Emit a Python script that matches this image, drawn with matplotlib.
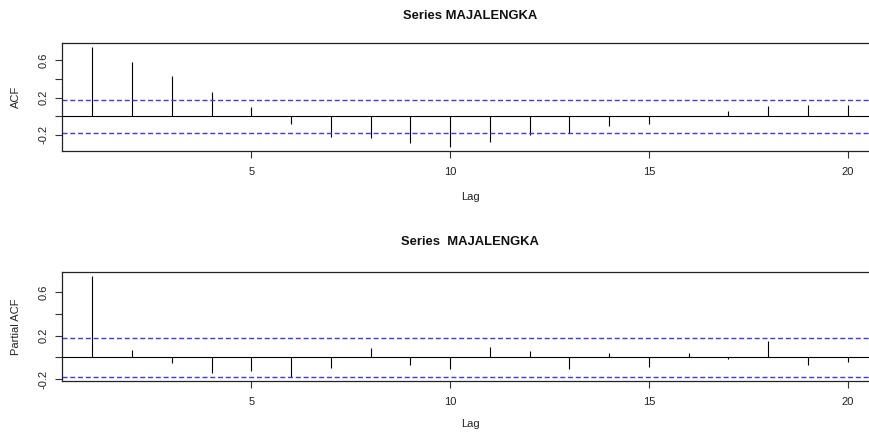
import matplotlib
matplotlib.use("Agg")
import matplotlib.pyplot as plt

plt.rcParams["font.family"] = ["Liberation Sans", "DejaVu Sans"]

lags = list(range(1, 21))
acf_vals = [0.745, 0.585, 0.433, 0.255, 0.103, -0.082, -0.220, -0.240, -0.295, -0.333,
            -0.284, -0.205, -0.177, -0.106, -0.085, 0.005, 0.050, 0.110, 0.125, 0.125]
pacf_vals = [0.741, 0.071, -0.053, -0.147, -0.126, -0.183, -0.098, 0.086, -0.071, -0.108,
             0.095, 0.059, -0.108, 0.041, -0.092, 0.041, -0.014, 0.153, -0.071, -0.044]
ci = 0.177
series_name = "MAJALENGKA"

W, H = 869, 432
fig = plt.figure(figsize=(W / 100, H / 100), dpi=100)


def px_axes(left, top, right, bottom):
    return fig.add_axes([left / W, 1 - bottom / H, (right - left) / W, (bottom - top) / H])


def draw_panel(ax, vals, ylabel, ylim):
    ax.vlines(lags, 0, vals, color="black", lw=0.8)
    ax.axhline(0, color="black", lw=0.8)
    for c in (ci, -ci):
        ax.axhline(c, color="#3a3aff", lw=1.0, dashes=(3.6, 2.0))
    ax.set_xlim(0.24, 20.76)
    ax.set_ylim(*ylim)
    ax.set_xticks([5, 10, 15, 20])
    ax.set_yticks([-0.2, 0.0, 0.2, 0.4, 0.6])
    ax.set_yticklabels(["-0.2", "", "0.2", "", "0.6"], rotation=90, va="center")
    ax.tick_params(direction="out", length=5, width=0.8, labelsize=8, color="#333333",
                   labelcolor="#222222")
    ax.tick_params(axis="x", pad=6.5)
    ax.tick_params(axis="y", pad=4.5)
    for s in ax.spines.values():
        s.set_linewidth(0.9)
        s.set_color("#222222")
    ax.set_ylabel(ylabel, fontsize=8, color="#222222")
    ax.yaxis.set_label_coords(-(62 - 21) / (878 - 62), 0.5)


ax1 = px_axes(62, 43, 878, 151)
draw_panel(ax1, acf_vals, "ACF", (-0.376, 0.788))
ax2 = px_axes(62, 272, 878, 381)
draw_panel(ax2, pacf_vals, "Partial ACF", (-0.217, 0.782))

fig.text(470 / W, 1 - 16 / H, "Series " + series_name, ha="center", va="center",
         fontsize=9.4, fontweight="bold", color="#111111")
fig.text(470 / W, 1 - 197 / H, "Lag", ha="center", va="center", fontsize=8, color="#222222")
fig.text(470 / W, 1 - 242 / H, "Series  " + series_name, ha="center", va="center",
         fontsize=9.4, fontweight="bold", color="#111111")
fig.text(470 / W, 1 - 424 / H, "Lag", ha="center", va="center", fontsize=8, color="#222222")

fig.savefig("out.png", dpi=100)
